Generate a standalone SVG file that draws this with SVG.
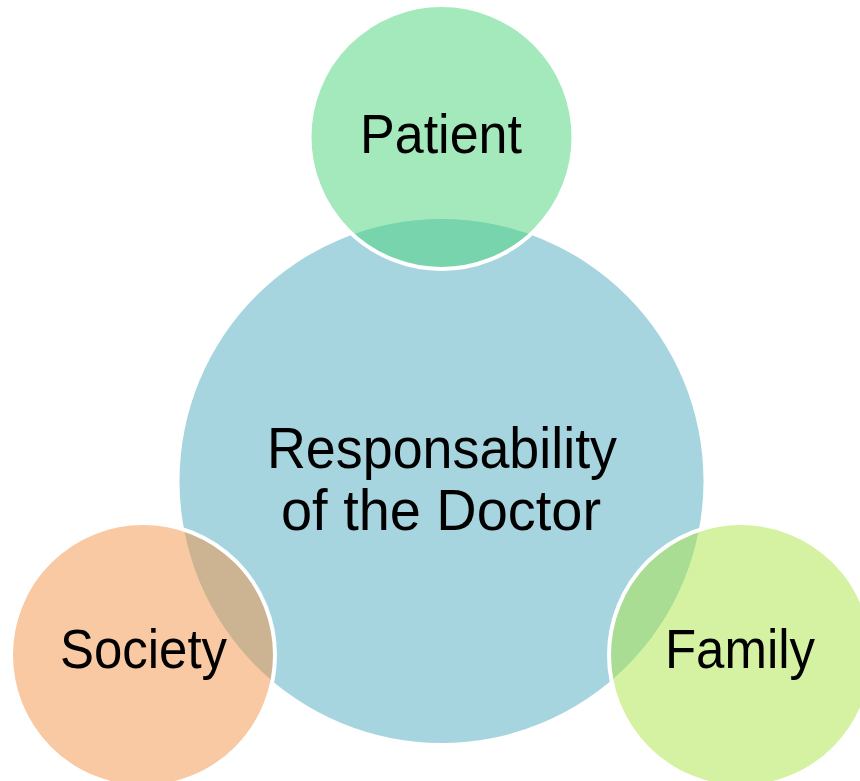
<svg xmlns="http://www.w3.org/2000/svg" width="860" height="781" viewBox="0 0 860 781">
<style>
.lbl{font-family:"Liberation Sans","DejaVu Sans",sans-serif;fill:#000;text-anchor:middle}
.sat{stroke:#fff;stroke-width:4;fill-opacity:0.5}
</style>
<rect width="860" height="781" fill="#fff"/>
<g id="center">
<circle cx="441.5" cy="481" r="262" fill="#a6d5e0"/>
</g>
<g id="patient">
<circle class="sat" cx="441.5" cy="137" r="132" fill="#47d377"/>
<text class="lbl" x="441" y="153" font-size="56" textLength="162" lengthAdjust="spacingAndGlyphs">Patient</text>
</g>
<g id="society">
<circle class="sat" cx="143" cy="655" r="132" fill="#f19345"/>
<text class="lbl" x="143.5" y="668" font-size="56" textLength="167" lengthAdjust="spacingAndGlyphs">Society</text>
</g>
<g id="family">
<circle class="sat" cx="741" cy="655" r="132" fill="#abe545"/>
<text class="lbl" x="740" y="668" font-size="56" textLength="150" lengthAdjust="spacingAndGlyphs">Family</text>
</g>
<g id="center-label">
<text class="lbl" x="442" y="468" font-size="58" textLength="350" lengthAdjust="spacingAndGlyphs">Responsability</text>
<text class="lbl" x="441" y="530" font-size="58" textLength="320" lengthAdjust="spacingAndGlyphs">of the Doctor</text>
</g>
<g id="connectors"></g>
</svg>
